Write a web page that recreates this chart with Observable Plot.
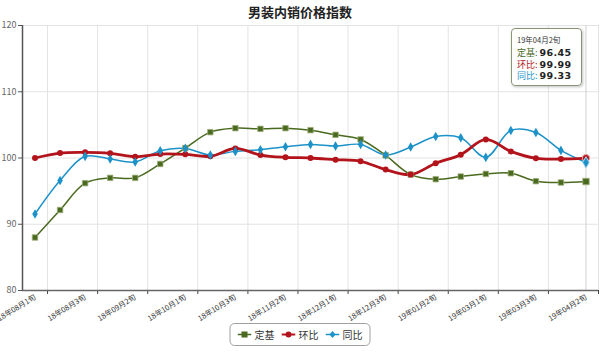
<!DOCTYPE html>
<html>
<head>
<meta charset="utf-8">
<script src="https://cdn.jsdelivr.net/npm/d3@7"></script>
<script src="https://cdn.jsdelivr.net/npm/@observablehq/plot@0.6"></script>
<style>
  html, body { margin: 0; padding: 0; background: #fff; }
  #wrap { position: relative; width: 600px; height: 355px; font-family: "Noto Sans CJK SC", "DejaVu Sans", sans-serif; }
  #title { position: absolute; left: 0; top: 2px; width: 600px; text-align: center; font-size: 13px; font-weight: bold; color: #222; }
  #legend { position: absolute; left: 300px; transform: translateX(-50%); top: 323px; height: 21px; padding: 0 7px; border: 1px solid #a0a0a0; border-radius: 5px; display: flex; align-items: center; gap: 7px; font-size: 10px; color: #333; background: #fff; white-space: nowrap; }
  #legend .item { display: flex; align-items: center; gap: 3px; white-space: nowrap; }
  #tip { position: absolute; left: 511px; top: 28px; width: 64px; height: 56px; border: 1.5px solid #8a9476; border-radius: 4px; background: rgba(255,255,255,0.92); box-shadow: 1px 1px 3px rgba(0,0,0,0.25); padding: 0 0 0 5px; white-space: nowrap; }
  #tip div { height: 11.5px; line-height: 11.5px; font-size: 9px; }
  #tip .date { font-size: 7.5px; color: #333; margin-top: 5px; margin-bottom: 1.5px; }
  #tip .v { font-family: "DejaVu Sans", sans-serif; font-weight: bold; font-size: 9.5px; color: #222; letter-spacing: 0.4px; }
  svg text { font-family: "Noto Sans CJK SC", "DejaVu Sans", sans-serif; }
</style>
</head>
<body>
<div id="wrap">
  <div id="title"></div>
  <div id="chart"></div>
  <div id="tip"></div>
  <div id="legend"></div>
</div>
<script>
const chartTitle = "男装内销价格指数";
const periods = [
  "18年08月1旬","18年08月2旬","18年08月3旬","18年09月1旬","18年09月2旬","18年09月3旬",
  "18年10月1旬","18年10月2旬","18年10月3旬","18年11月1旬","18年11月2旬","18年11月3旬",
  "18年12月1旬","18年12月2旬","18年12月3旬","19年01月1旬","19年01月2旬","19年01月3旬",
  "19年03月1旬","19年03月2旬","19年03月3旬","19年04月1旬","19年04月2旬"
];
const seriesNames = ["定基", "环比", "同比"];
const dingji = [88.0, 92.15, 96.2, 97.0, 97.0, 99.1, 101.5, 103.9, 104.5, 104.4, 104.5, 104.2, 103.5, 102.8, 100.4, 97.5, 96.8, 97.2, 97.6, 97.7, 96.5, 96.3, 96.45];
const huanbi = [100.0, 100.75, 100.85, 100.7, 100.2, 100.6, 100.55, 100.25, 101.45, 100.45, 100.1, 100.0, 99.75, 99.5, 98.25, 97.5, 99.2, 100.5, 102.8, 101.0, 99.95, 99.85, 99.99];
const tongbi = [91.55, 96.6, 100.25, 99.85, 99.4, 101.1, 101.45, 100.45, 101.0, 101.25, 101.7, 102.05, 101.8, 102.05, 100.45, 101.65, 103.25, 103.05, 100.1, 104.15, 103.85, 101.15, 99.33];
const yTicks = [80, 90, 100, 110, 120];

const colors = {"定基": "#4a6a1f", "环比": "#b3141c", "同比": "#1d92c9"};

const rows = [];
[dingji, huanbi, tongbi].forEach((arr, s) => arr.forEach((v, i) => rows.push({i, v, s: seriesNames[s]})));
const bySeries = name => rows.filter(d => d.s === name);
const n = periods.length;
const last = n - 1;
const labelIdx = d3.range(0, n, 2);
const gridIdx = d3.range(0.5, n, 2);

const chart = Plot.plot({
  width: 600,
  height: 355,
  marginLeft: 22,
  marginRight: 2,
  marginTop: 25,
  marginBottom: 65,
  x: {type: "linear", domain: [-0.5, n - 0.5]},
  y: {domain: [80, 120]},
  style: {fontSize: "9px", color: "#555", background: "transparent"},
  marks: [
    Plot.ruleY(yTicks, {stroke: "#e3e3e3", strokeWidth: 1}),
    Plot.ruleX(gridIdx, {y1: 80, y2: 120, stroke: "#e3e3e3", strokeWidth: 1}),
    Plot.ruleX([last], {y1: 80, y2: 120, stroke: "#d0d0d0", strokeWidth: 1}),
    Plot.axisY({ticks: yTicks, tickSize: 4, tickPadding: 2, label: null, fill: "#666", stroke: "#555", fontSize: 9}),
    Plot.axisX({ticks: gridIdx, tickSize: 4, tickFormat: () => "", label: null, stroke: "#444"}),
    Plot.axisX({ticks: labelIdx, tickSize: 0, tickPadding: 6, tickRotate: -32, tickFormat: i => periods[i], label: null, fontSize: 7.5, fill: "#333"}),
    Plot.ruleX([-0.5], {y1: 80, y2: 120, stroke: "#555", strokeWidth: 1.5}),
    Plot.ruleY([80], {stroke: "#666", strokeWidth: 1.5}),
    // lines
    Plot.line(bySeries("定基"), {x: "i", y: "v", curve: "catmull-rom", stroke: colors["定基"], strokeWidth: 1.5}),
    Plot.line(bySeries("同比"), {x: "i", y: "v", curve: "catmull-rom", stroke: colors["同比"], strokeWidth: 1.5}),
    Plot.line(bySeries("环比"), {x: "i", y: "v", curve: "catmull-rom", stroke: colors["环比"], strokeWidth: 2.8}),
    // markers
    Plot.dot(bySeries("定基"), {x: "i", y: "v", symbol: "square", r: d => d.i === last ? 5 : 3.6, fill: colors["定基"], stroke: "#9fae7c", strokeWidth: 0.8}),
    Plot.dot(bySeries("环比"), {x: "i", y: "v", symbol: "circle", r: d => d.i === last ? 5 : 3.4, fill: colors["环比"], stroke: d => d.i === last ? "#e9a0a0" : "none", strokeWidth: 1}),
    Plot.dot(bySeries("同比"), {x: "i", y: "v", symbol: "diamond", r: d => d.i === last ? 4.5 : 3.2, fill: colors["同比"], stroke: d => d.i === last ? "#a8d8ef" : "none", strokeWidth: 1})
  ]
});
document.getElementById("chart").appendChild(chart);
document.getElementById("title").textContent = chartTitle;

// tooltip for the last period
const tip = document.getElementById("tip");
const lastVals = [dingji[last], huanbi[last], tongbi[last]];
let html = `<div class="date">${periods[last]}</div>`;
seriesNames.forEach((s, k) => {
  html += `<div><span style="color:${colors[s]}">${s}:</span> <span class="v">${lastVals[k].toFixed(2)}</span></div>`;
});
tip.innerHTML = html;

// legend
const legend = document.getElementById("legend");
const symbolSvg = (s) => {
  const c = colors[s];
  let m;
  if (s === "定基") m = `<rect x="4" y="1.5" width="6" height="6" fill="${c}"/>`;
  else if (s === "环比") m = `<circle cx="7" cy="4.5" r="3" fill="${c}"/>`;
  else m = `<path d="M7 1 L10 4.5 L7 8 L4 4.5 Z" fill="${c}"/>`;
  return `<svg width="14" height="9"><line x1="0" y1="4.5" x2="14" y2="4.5" stroke="${c}" stroke-width="${s === "环比" ? 2 : 1.5}"/>${m}</svg>`;
};
legend.innerHTML = seriesNames.map(s => `<div class="item">${symbolSvg(s)}<span>${s}</span></div>`).join("");
</script>
</body>
</html>
